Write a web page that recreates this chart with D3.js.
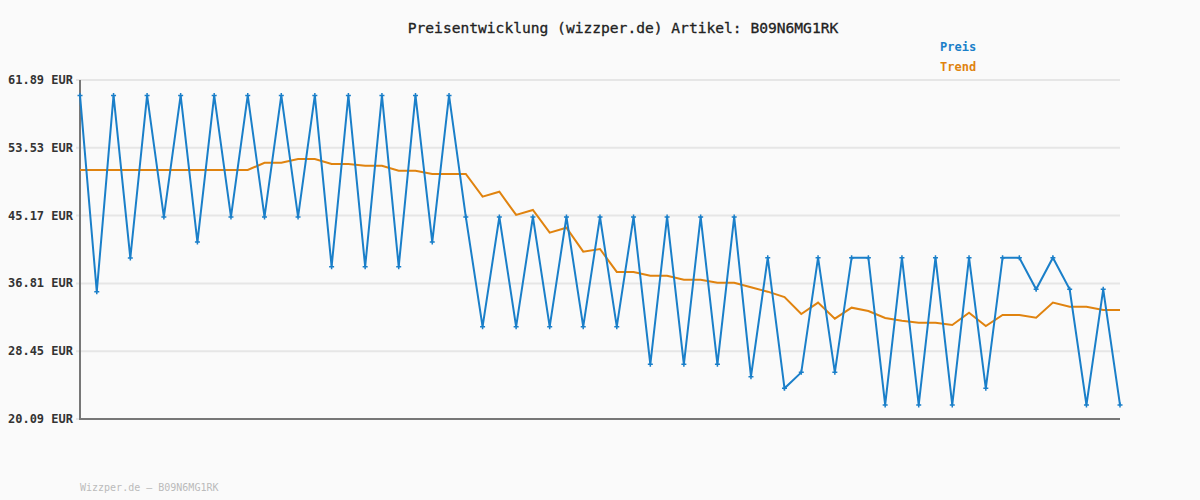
<!DOCTYPE html>
<html>
<head>
<meta charset="utf-8">
<script src="https://cdn.jsdelivr.net/npm/d3@7"></script>
<style>
  body { margin: 0; background: #fafafa; }
  text { font-family: "DejaVu Sans Mono", monospace; }
</style>
</head>
<body>
<svg id="chart" width="1200" height="500"></svg>
<script>
// ----------------------------------------
// Data
// ----------------------------------------

const yTicks = [20.09, 28.45, 36.81, 45.17, 53.53, 61.89];

const price = [
    59.99, 35.79, 59.99, 39.94, 59.99, 45.0, 59.99, 41.91, 59.99, 45.0,
    59.99, 45.0, 59.99, 45.0, 59.99, 38.87, 59.99, 38.87, 59.99, 38.87,
    59.99, 41.91, 59.99, 45.0, 31.47, 45.0, 31.47, 45.0, 31.47, 45.0,
    31.47, 45.0, 31.47, 45.0, 26.83, 45.0, 26.83, 45.0, 26.83, 45.0,
    25.31, 39.98, 23.87, 25.84, 39.98, 25.84, 39.98, 39.98, 21.82, 39.98,
    21.82, 39.98, 21.82, 39.98, 23.87, 39.98, 39.98, 36.08, 39.98, 36.08,
    21.82, 36.08, 21.82
];

const trend = [
    50.79, 50.79, 50.79, 50.79, 50.79, 50.79, 50.79, 50.79, 50.79, 50.79,
    50.79, 51.69, 51.69, 52.15, 52.15, 51.53, 51.53, 51.32, 51.32, 50.7,
    50.7, 50.3, 50.3, 50.3, 47.5, 48.12, 45.25, 45.86, 43.06, 43.68,
    40.72, 41.05, 38.22, 38.22, 37.76, 37.76, 37.27, 37.27, 36.9, 36.9,
    36.33, 35.79, 35.13, 33.04, 34.44, 32.46, 33.82, 33.41, 32.54, 32.21,
    31.96, 31.96, 31.68, 33.2, 31.56, 32.91, 32.91, 32.58, 34.44, 33.94,
    33.94, 33.53, 33.53
];

const blue = "#1a7fc9";
const orange = "#e0830f";

// ----------------------------------------
// Scales
// ----------------------------------------

const svg = d3.select("#chart");
const plotLeft = 80, plotRight = 1120, plotTop = 80, plotBottom = 419;

const x = d3.scaleLinear().domain([0, price.length - 1]).range([plotLeft, plotRight]);
const y = d3.scaleLinear().domain([20.09, 61.89]).range([plotBottom, plotTop]);

// grid
svg.append("g")
    .selectAll("line")
    .data(yTicks)
    .join("line")
    .attr("x1", plotLeft - 4).attr("x2", plotRight)
    .attr("y1", d => y(d)).attr("y2", d => y(d))
    .attr("stroke", "#e6e6e6").attr("stroke-width", 2);

// tick labels
svg.append("g")
    .selectAll("text")
    .data(yTicks)
    .join("text")
    .attr("x", 73).attr("y", d => y(d) + 4)
    .attr("text-anchor", "end")
    .attr("font-size", 12).attr("font-weight", "bold")
    .attr("fill", "#333")
    .text(d => d.toFixed(2) + " EUR");

// axes
svg.append("line")
    .attr("x1", plotLeft).attr("x2", plotLeft).attr("y1", plotTop).attr("y2", plotBottom + 1)
    .attr("stroke", "#777").attr("stroke-width", 2);
svg.append("line")
    .attr("x1", plotLeft).attr("x2", plotRight).attr("y1", plotBottom).attr("y2", plotBottom)
    .attr("stroke", "#777").attr("stroke-width", 2);

// lines
const line = d3.line().x((d, i) => x(i)).y(d => y(d));

svg.append("path").datum(trend)
    .attr("d", line).attr("fill", "none")
    .attr("stroke", orange).attr("stroke-width", 2);

svg.append("path").datum(price)
    .attr("d", line).attr("fill", "none")
    .attr("stroke", blue).attr("stroke-width", 2);

svg.append("g")
    .selectAll("path")
    .data(price)
    .join("path")
    .attr("d", (d, i) => {
        const px = x(i), py = y(d);
        return `M${px - 2.5},${py}H${px + 2.5}M${px},${py - 2.5}V${py + 2.5}`;
    })
    .attr("stroke", blue).attr("stroke-width", 1.5);

// title, legend, footer
svg.append("text")
    .attr("x", 623).attr("y", 33).attr("text-anchor", "middle")
    .attr("font-size", 14.6).attr("fill", "#222").attr("stroke", "#222").attr("stroke-width", 0.3)
    .text("Preisentwicklung (wizzper.de) Artikel: B09N6MG1RK");

svg.append("text")
    .attr("x", 940).attr("y", 51)
    .attr("font-size", 12).attr("font-weight", "bold").attr("fill", blue)
    .text("Preis");
svg.append("text")
    .attr("x", 940).attr("y", 71)
    .attr("font-size", 12).attr("font-weight", "bold").attr("fill", orange)
    .text("Trend");

svg.append("text")
    .attr("x", 80).attr("y", 491)
    .attr("font-size", 10).attr("fill", "#bbb")
    .text("Wizzper.de – B09N6MG1RK");
</script>
</body>
</html>
